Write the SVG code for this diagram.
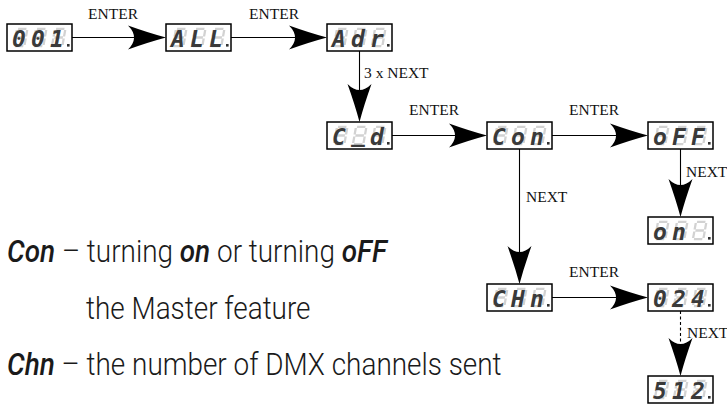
<svg xmlns="http://www.w3.org/2000/svg" xmlns:xlink="http://www.w3.org/1999/xlink" width="727" height="408" viewBox="0 0 727 408">
<style>
.box{fill:#fff;stroke:#000;stroke-width:1.5}
.ghost{fill:none;stroke:#d2d2d2;stroke-width:2.3}
.disp{font-family:"DejaVu Sans Mono","Liberation Mono",monospace;font-weight:bold;font-style:oblique;font-size:23px;fill:#3a3a3a}
.lbl{font-family:"Liberation Serif","Times New Roman",serif;font-size:15.5px;fill:#111}
.c{text-anchor:middle}
.ln{stroke:#000;stroke-width:1.1;fill:none}
.dash{stroke-dasharray:3 2.5}
.ah{fill:#000}
.body{font-family:Roboto,"Open Sans",sans-serif;font-weight:300;font-size:31px;fill:#1a1a1a}
.em{font-weight:500;font-style:italic}
</style>
<defs>
<path id="seg8" class="ghost" d="M1.8,-18.2H10.2M0.8,-17V-10.5M11.2,-17V-10.5M1.8,-9.5H10.2M0.8,-8.5V-2M11.2,-8.5V-2M1.8,-0.8H10.2"/>
<g id="panel">
<rect class="box" x="0" y="0" width="65" height="27"/>
<use xlink:href="#seg8" transform="translate(6,23) skewX(-10)"/>
<use xlink:href="#seg8" transform="translate(25,23) skewX(-10)"/>
<use xlink:href="#seg8" transform="translate(44,23) skewX(-10)"/>
<rect x="60" y="20" width="2.6" height="2.6" fill="#333"/>
</g>
<path id="ah" class="ah" d="M0,0 Q-17,-4.5 -38,-12 Q-26,0 -38,12 Q-17,4.5 0,0 Z"/>
</defs>

<g id="connectors">
<line class="ln" x1="72" y1="37.5" x2="135" y2="37.5"/>
<use xlink:href="#ah" transform="translate(166,37.5)"/>
<line class="ln" x1="231" y1="37.5" x2="296" y2="37.5"/>
<use xlink:href="#ah" transform="translate(327,37.5)"/>
<line class="ln" x1="359.5" y1="51" x2="359.5" y2="92"/>
<use xlink:href="#ah" transform="translate(359.5,122) rotate(90)"/>
<line class="ln" x1="392" y1="135.5" x2="456" y2="135.5"/>
<use xlink:href="#ah" transform="translate(487,135.5)"/>
<line class="ln" x1="552" y1="135.5" x2="617" y2="135.5"/>
<use xlink:href="#ah" transform="translate(648,135.5)"/>
<line class="ln" x1="680.5" y1="149" x2="680.5" y2="187"/>
<use xlink:href="#ah" transform="translate(680.5,217) rotate(90)"/>
<line class="ln" x1="519.5" y1="149" x2="519.5" y2="254"/>
<use xlink:href="#ah" transform="translate(519.5,284) rotate(90)"/>
<line class="ln" x1="552" y1="297.5" x2="617" y2="297.5"/>
<use xlink:href="#ah" transform="translate(648,297.5)"/>
<line class="ln dash" x1="680.5" y1="311" x2="680.5" y2="346"/>
<use xlink:href="#ah" transform="translate(680.5,376) rotate(90)"/>
<text class="lbl c" x="113" y="18.5">ENTER</text>
<text class="lbl c" x="274" y="18.5">ENTER</text>
<text class="lbl" x="364" y="78">3 x NEXT</text>
<text class="lbl c" x="434" y="115">ENTER</text>
<text class="lbl c" x="594" y="115">ENTER</text>
<text class="lbl" x="686" y="177">NEXT</text>
<text class="lbl" x="526" y="201.5">NEXT</text>
<text class="lbl c" x="594" y="276.5">ENTER</text>
<text class="lbl" x="687" y="338">NEXT</text>
</g>

<g id="n001" transform="translate(7,24)"><use xlink:href="#panel"/><text class="disp" x="5 24 43" y="23">001</text></g>
<g id="nALL" transform="translate(166,24)"><use xlink:href="#panel"/><text class="disp" x="5 24 43" y="23">ALL</text></g>
<g id="nAdr" transform="translate(327,24)"><use xlink:href="#panel"/><text class="disp" x="5 24 43" y="23">Adr</text></g>
<g id="nCd" transform="translate(327,122)"><use xlink:href="#panel"/><text class="disp" x="5 24 43" y="23" dy="0 -3 3">C_d</text></g>
<g id="nCon" transform="translate(487,122)"><use xlink:href="#panel"/><text class="disp" x="5 24 43" y="23">Con</text></g>
<g id="noFF" transform="translate(648,122)"><use xlink:href="#panel"/><text class="disp" x="5 24 43" y="23">oFF</text></g>
<g id="non" transform="translate(648,217)"><use xlink:href="#panel"/><text class="disp" x="5 24" y="23">on</text></g>
<g id="nCHn" transform="translate(487,284)"><use xlink:href="#panel"/><text class="disp" x="5 24 43" y="23">CHn</text></g>
<g id="n024" transform="translate(648,284)"><use xlink:href="#panel"/><text class="disp" x="5 24 43" y="23">024</text></g>
<g id="n512" transform="translate(648,376)"><use xlink:href="#panel"/><text class="disp" x="5 24 43" y="23">512</text></g>

<g id="legend">
<g transform="translate(7,262) scale(0.9,1)"><text class="body" x="0" y="0"><tspan class="em">Con</tspan> – turning <tspan class="em">on</tspan> or turning <tspan class="em">oFF</tspan></text></g>
<g transform="translate(86,319) scale(0.9,1)"><text class="body" x="0" y="0">the Master feature</text></g>
<g transform="translate(7,375) scale(0.9,1)"><text class="body" x="0" y="0"><tspan class="em">Chn</tspan> – the number of DMX channels sent</text></g>
</g>
</svg>
